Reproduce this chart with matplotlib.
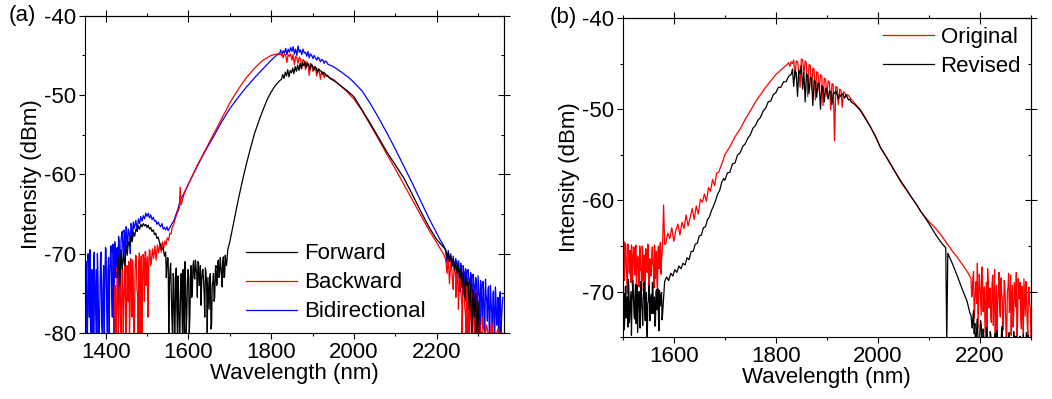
import numpy as np
import matplotlib.pyplot as plt
from matplotlib.ticker import MultipleLocator

plt.rcParams['font.family'] = ['Liberation Sans', 'DejaVu Sans']
plt.rcParams['font.size'] = 16
plt.rcParams['axes.unicode_minus'] = False

# ---------------- panel (a) ----------------
# Forward (black)
fwd_left_y = [-73, -70.5, -74, -69.5, -72, -70, -71.5, -69, -70.2, -68.5,
              -69, -67.8, -68.5, -67.3, -67.8, -66.9, -67.2, -66.5, -66.9, -66.3,
              -66.6, -66.2, -66.5, -66.3, -66.7, -66.4, -66.9, -66.7, -67.2, -67.0,
              -67.6, -67.4, -68.1, -67.9, -68.6, -68.9, -69.5, -69.2, -70.3, -69.8,
              -71.5, -70.6, -74, -71.2, -78, -72.5, -80, -73.5, -77, -72.8,
              -80, -74, -76.5, -72, -80, -73.5, -78, -72, -80, -73,
              -75.5, -71.5, -73, -70.8, -72.5, -71, -74, -71.5, -73.5, -72,
              -75, -71.8, -74, -73, -77, -72.5, -79, -73.5, -76, -72,
              -74, -71, -73, -70.5, -72.5, -71, -73, -70.2, -71.5, -69.5]  # from 1428, step 3
fwd_left2_y = [-73, -70.5, -80, -72, -75, -80, -73, -80, -71.8, -80,
               -76, -80, -72.5, -80, -75.5, -71, -80, -74, -72.8, -78,
               -71.5, -74.5, -70.9, -73.2, -71.8, -75.5, -71.2, -73.8, -76.5, -72.2,
               -73.6, -78, -72.4, -80, -75, -73, -79.5, -74, -72.5, -75.5,
               -71.5, -73.8, -70.8, -72.6, -71.6, -74.2, -70.4, -72.8, -71.2, -70.6]  # from 1546.5, step 3
fwd_mid_x = [1700, 1710, 1720, 1730, 1740, 1750, 1760, 1770, 1780, 1790, 1800, 1810, 1820]
fwd_mid_y = [-68.5, -65.9, -63.3, -60.9, -58.7, -56.7, -54.8, -53.3, -51.9, -50.6, -49.6, -48.8, -48.2]
fwd_top_y = [-48.0, -47.4, -47.9, -47.1, -47.6, -46.8, -47.7, -46.9, -47.2, -46.6,
             -47.3, -46.4, -47.0, -46.2, -46.9, -46.0, -46.7, -45.9, -46.3, -45.8,
             -46.5, -46.0, -46.2, -46.8, -46.1, -46.3, -46.9, -46.4, -46.6, -47.2,
             -46.7, -46.9, -47.0, -47.4, -47.1, -47.3, -47.6, -47.5, -47.7, -47.9]  # from 1825, step 3
fwd_right_x = [1955, 1970, 1985, 2000, 2020, 2040, 2060, 2080, 2100, 2120, 2140, 2160, 2180, 2200, 2215]
fwd_right_y = [-48.3, -48.9, -49.5, -50.2, -51.9, -53.6, -55.4, -57.2, -58.8, -60.4, -62.4, -64.5, -66.5, -68.2, -69.1]
fwd_tail_y = [-69.5, -70.4, -69.9, -71.0, -70.3, -71.6, -70.6, -72.1, -71.0, -72.4,
              -71.5, -73.0, -72.0, -74.2, -72.4, -75.5, -72.9, -74.0, -73.5, -77.0,
              -73.8, -80, -74.5, -78, -75.0, -80, -76, -80, -80, -80]  # from 2222, step 3

# Backward (red)
bwd_left_y = [-80, -74, -80, -72.5, -78, -73, -80, -72, -76, -71.5,
              -80, -73, -71, -77, -72.5, -70.8, -80, -72, -70.5, -75,
              -71, -80, -70.3, -73.5, -70.8, -69.8, -74, -70.4, -72, -69.6,
              -71.2, -69.4, -70.6, -69.0, -70.8, -68.9, -69.9, -68.7, -69.8, -68.5,
              -69.3, -68.4, -68.9, -68.0, -68.3, -67.4, -67.5, -66.6, -66.4, -65.8]  # from 1420, step 3
bwd_left2_y = [-76, -80, -71.8, -80, -74, -80, -71, -80, -73.5, -80,
               -71.5, -76, -80, -70.6, -78, -73, -80, -70.2, -74.5, -80,
               -69.9, -72.8, -80, -70.1, -76, -69.7, -71.8, -78, -69.5, -71.5]  # from 1421.5, step 3
bwd_mid_x = [1570, 1578, 1580, 1582, 1590, 1600, 1620, 1640, 1660, 1680, 1700, 1720, 1740, 1760, 1780, 1800, 1815]
bwd_mid_y = [-65.3, -64.2, -61.6, -63.9, -62.4, -61.2, -59.0, -57.0, -55.0, -53.0, -51.0, -49.3, -47.8, -46.6, -45.6, -45.0, -44.8]
bwd_top_y = [-44.8, -44.9, -44.7, -45.3, -44.8, -45.0, -45.9, -44.9, -45.1, -44.8,
             -45.6, -44.9, -46.2, -45.1, -45.3, -46.0, -45.2, -45.5, -46.6, -45.5,
             -45.7, -46.8, -45.8, -46.1, -47.5, -46.0, -46.3, -47.0, -46.4, -46.6,
             -47.6, -46.7, -46.9, -48.0, -47.0, -47.2, -47.8, -47.3, -47.5, -47.7]  # from 1820, step 3
bwd_right_x = [1950, 1965, 1980, 2000, 2020, 2040, 2060, 2080, 2100, 2120, 2140, 2160, 2180, 2200, 2218]
bwd_right_y = [-48.0, -48.7, -49.4, -50.5, -52.0, -53.8, -55.6, -57.5, -59.3, -61.2, -63.1, -65.0, -66.9, -68.6, -70.2]
bwd_tail_y = [-70.8, -72.5, -70.6, -73.8, -71.0, -72.2, -74.5, -71.5, -73.0, -72.0,
              -75, -72.3, -73.6, -76.5, -72.8, -74.2, -78, -73.5, -80, -74.0,
              -76.5, -80, -75, -80, -74.5, -80, -77, -80, -80, -80,
              -78, -80, -80, -79, -80, -80, -80, -78.5, -80, -80,
              -80, -80, -79.5, -80, -80, -80]  # from 2222, step 3
bwd_tail2_y = [-73.2, -71.4, -75.5, -72.2, -77, -73.0, -74.8, -80, -73.6, -76.4,
               -80, -74.2, -78, -80, -75.5, -80, -77.5, -80, -76, -80,
               -80, -78.5, -80, -80, -79]  # from 2240.5, step 3

# Bidirectional (blue)
bid_left_y = [-80, -71, -80, -73, -69.5, -80, -75, -70.5, -80, -72,
              -70, -80, -76, -69.8, -80, -71.5, -74, -69.5, -80, -70.5,
              -72.5, -69, -78, -70.2, -68.5, -73, -69.2, -67.8, -71.5, -68.4,
              -67.2, -70.6, -67.5, -66.6, -69.2, -66.9, -67.8, -66.2, -68.3, -66.0,
              -66.6, -65.8, -67.1, -65.6, -66.2, -65.3, -65.9, -65.2, -65.6, -64.9,
              -65.3, -64.9, -65.5, -65.1, -65.7, -65.4, -65.9, -65.8, -66.3, -66.0,
              -66.4, -66.6, -66.2, -66.9, -66.7, -67.0, -66.6, -67.1, -66.8, -66.5]  # from 1350, step 3
bid_left2_y = [-74, -80, -70, -78, -80, -72, -80, -69.8, -76, -80,
               -73, -80, -70.5, -79, -74, -80, -69.2, -77, -72, -80,
               -70, -75, -68.8, -80, -71, -69.5, -76, -68.2, -73, -67.6,
               -69.5, -67.0, -71.8, -66.8, -68.6, -67.2, -70.0, -66.4, -67.5, -66.8]  # from 1351.5, step 3
bid_mid_x = [1565, 1575, 1580, 1590, 1600, 1620, 1640, 1660, 1680, 1700, 1720, 1740, 1760, 1780, 1800, 1815]
bid_mid_y = [-65.8, -64.3, -63.3, -62.3, -61.2, -59.1, -57.1, -55.3, -53.4, -51.7, -50.3, -49.0, -47.8, -46.7, -45.6, -44.9]
bid_top_y = [-44.8, -44.3, -45.0, -44.4, -44.7, -44.1, -44.9, -44.2, -44.6, -44.0,
             -44.5, -43.9, -44.8, -44.2, -45.0, -43.8, -44.6, -44.3, -44.9, -44.2,
             -44.7, -44.6, -45.1, -44.5, -45.3, -44.8, -45.0, -45.4, -45.0, -45.3,
             -45.6, -45.2, -45.4, -45.8, -45.5, -45.6, -46.0, -45.7, -45.8, -46.1]  # from 1820, step 3
bid_right_x = [1950, 1970, 1990, 2000, 2020, 2040, 2060, 2080, 2100, 2120, 2140, 2160, 2180, 2200, 2210, 2219]
bid_right_y = [-46.4, -47.1, -47.9, -48.4, -49.5, -51.1, -52.9, -54.8, -56.8, -58.9, -61.0, -63.2, -65.4, -67.4, -68.4, -69.2]
bid_tail_y = [-69.8, -71.2, -69.6, -70.8, -70.0, -71.6, -70.3, -72.0, -70.6, -71.3,
              -70.9, -72.6, -71.2, -73.1, -71.5, -72.4, -71.9, -74.0, -72.0, -73.2,
              -72.4, -75.0, -72.6, -74.2, -73.0, -76.5, -72.8, -75.5, -73.4, -77.0,
              -73.5, -78.5, -73.2, -76.0, -74.5, -80, -74.0, -77.5, -75.0, -80,
              -74.2, -79, -75.5, -80, -74.8, -78, -75.5]  # from 2222, step 3
bid_tail2_y = [-73.5, -71.0, -74.8, -71.6, -75.2, -72.1, -76.0, -72.4, -74.9, -73.0,
               -77.5, -72.7, -76.8, -73.6, -80, -73.3, -78, -74.2, -80, -73.9,
               -79, -74.6, -80, -75.2, -78.5, -74.1, -80, -76, -80, -74.7,
               -80, -75.8, -79, -80, -75, -80, -76.5]  # from 2250.5, step 3

# ---------------- panel (b) ----------------
# Original (red)
org_left_y = [-70, -64.5, -67.5, -65, -68.5, -64.8, -66.2, -65.5, -69, -65.2,
              -66.8, -65.1, -68.2, -64.9, -67.0, -66.3, -69.5, -65.3, -67.4, -65.0,
              -68.8, -66.0, -70.5, -65.4, -67.9, -65.2, -69.2, -66.5, -68.0, -65.1,
              -67.3, -64.9, -68.6, -65.6, -69.8, -65.0, -67.1, -64.6, -66.4, -64.8]  # from 1500, step 2
org_left2_y = [-66.0, -68.8, -64.7, -67.2, -70.2, -65.6, -68.0, -66.9, -64.9, -69.4,
               -65.8, -67.6, -65.2, -70.8, -66.1, -68.4, -65.0, -67.7, -69.9, -65.5,
               -66.7, -69.0, -65.3, -67.8, -64.8, -70.0, -66.4, -68.3, -65.7, -67.0,
               -69.6, -65.1, -66.8, -68.9, -65.4, -67.5, -64.7, -68.1, -65.9]  # from 1501, step 2
org_spike_x = [1580, 1582]
org_spike_y = [-60.5, -64.8]
org_rise_y = [-64.8, -63.6, -64.2, -63.0, -64.5, -63.3, -62.6, -63.8, -62.4, -63.1,
              -61.6, -62.8, -61.9, -60.9, -62.1, -60.6, -61.5, -59.9, -60.2, -59.3,
              -60.1, -58.6, -59.0, -57.7, -58.4, -57.0, -56.9, -56.3, -55.7, -55.0]  # from 1584, step 4
org_mid_x = [1710, 1720, 1730, 1740, 1750, 1760, 1770, 1780, 1790, 1800, 1810, 1820]
org_mid_y = [-54.1, -53.0, -52.2, -51.1, -50.2, -49.2, -48.4, -47.6, -46.9, -46.2, -45.7, -45.2]
org_top_y = [-45.1, -44.9, -45.3, -44.8, -45.0, -44.6, -46.6, -44.7, -44.8, -45.8,
             -47.6, -44.5, -44.6, -46.1, -44.7, -45.0, -48.6, -45.1, -45.2, -47.9,
             -45.5, -45.6, -49.0, -45.9, -46.0, -48.1, -46.2, -46.4, -49.6, -46.6,
             -46.7, -48.6, -46.9, -47.0, -50.1, -47.2, -47.3, -53.5, -47.5, -47.6,
             -49.5, -47.8, -47.9, -49.8, -48.1, -48.2, -48.6, -48.4, -48.5, -48.7]  # from 1822.5, step 2.5
org_right_x = [1955, 1965, 1975, 1985, 1995, 2005, 2015, 2025, 2035, 2045, 2055, 2065,
               2075, 2085, 2095, 2105, 2115, 2125, 2135, 2145, 2155, 2165, 2175, 2180]
org_right_y = [-49.4, -50.0, -50.9, -51.9, -52.9, -54.2, -55.1, -56.1, -57.0, -58.0, -58.8, -59.6,
               -60.4, -61.3, -62.0, -62.6, -63.2, -63.9, -64.7, -65.5, -66.2, -67.0, -67.8, -68.3]
org_tail_y = [-68.5, -70.2, -67.8, -71.5, -68.9, -66.9, -70.8, -69.2, -72.6, -68.3,
              -70.5, -74.5, -69.0, -67.5, -71.8, -69.6, -73.4, -68.2, -70.9, -75,
              -69.3, -71.2, -67.9, -72.8, -70.1, -74.2, -68.8, -71.5, -75, -69.6,
              -72.3, -68.2, -70.6, -73.9, -69.0, -71.7, -75, -68.6, -70.3, -72.9,
              -69.4, -74.6, -70.8, -68.9, -73.2, -70.0, -71.6, -75]  # from 2182.5, step 2.5
org_tail2_y = [-70.6, -68.4, -72.9, -69.7, -71.3, -74.0, -68.1, -70.9, -67.3, -72.2,
               -69.5, -71.6, -75, -68.7, -70.4, -72.8, -69.1, -73.7, -67.6, -71.1,
               -74.4, -69.8, -72.0, -68.5, -70.7, -73.3, -69.2, -75, -70.0, -68.0,
               -71.9, -74.8, -69.3, -72.5, -70.2, -67.9, -73.6, -70.8, -69.0, -74.1,
               -71.4, -68.6, -72.7, -70.3, -75, -69.5, -71.8]  # from 2183.75, step 2.5

# Revised (black)
rev_left_y = [-75, -70.2, -72.8, -69.4, -71.5, -73.9, -69.8, -72.3, -70.0, -71.1,
              -68.8, -72.5, -70.4, -73.5, -69.3, -71.8, -70.0, -74.0, -69.6, -72.2,
              -70.7, -68.9, -73.2, -70.1, -75, -71.0, -69.5, -72.8, -70.3, -69.0,
              -72.4, -70.6, -73.6, -69.8, -71.5, -72.9, -69.9, -71.3, -70.1, -72.5]  # from 1500, step 2
rev_left2_y = [-71.8, -74.2, -69.5, -72.9, -70.6, -68.7, -73.4, -71.2, -74.8, -69.9,
               -70.8, -73.0, -69.2, -71.9, -74.5, -70.3, -72.6, -68.9, -71.4, -73.7,
               -69.6, -72.1, -70.5, -74.0, -71.3, -69.4, -73.2, -70.8, -72.4, -69.1,
               -71.0, -73.8, -70.2, -72.0, -69.7, -74.3, -71.6, -70.4, -73.1]  # from 1501, step 2
rev_rise_y = [-68.9, -68.4, -68.8, -68.0, -68.3, -67.6, -67.9, -67.2, -67.5, -66.9,
              -67.1, -66.3, -66.5, -65.6, -65.6, -64.8, -64.7, -63.9, -63.8, -63.0,
              -62.9, -62.1, -61.8, -61.1, -60.6, -60.0, -59.3, -58.9, -58.0, -57.6]  # from 1582, step 4
rev_mid_y = [-57.8, -57.0, -56.9, -56.0, -55.9, -55.0, -54.8, -54.1, -53.8, -53.2,
             -52.8, -52.1, -51.8, -51.2, -50.9, -50.2, -49.9, -49.2, -49.1, -48.4,
             -48.2, -47.6, -47.6, -47.0, -47.0, -46.4]  # from 1700, step 5
rev_top_y = [-46.2, -45.6, -47.5, -45.8, -46.0, -48.6, -45.7, -46.1, -45.2, -47.8,
             -46.0, -49.2, -46.1, -46.4, -48.3, -46.5, -46.7, -49.6, -46.8, -47.0,
             -48.7, -47.1, -47.3, -50.0, -47.4, -47.6, -49.2, -47.7, -47.9, -48.9,
             -48.0, -48.1, -49.5, -48.2, -48.3, -48.0, -48.4, -48.9, -48.4, -48.6,
             -48.3, -48.5, -48.8, -48.4, -48.7, -49.0, -48.9, -49.2]  # from 1830, step 2.5
rev_right_x = [1955, 1965, 1975, 1985, 1995, 2005, 2015, 2025, 2035, 2045, 2055, 2065, 2075,
               2085, 2095, 2105, 2115, 2125, 2133, 2135, 2137, 2145, 2155, 2165, 2175, 2180]
rev_right_y = [-49.5, -50.1, -51.0, -51.9, -53.0, -54.2, -55.1, -56.0, -57.0, -57.9, -58.7, -59.6, -60.4,
               -61.3, -62.1, -63.0, -63.9, -64.7, -65.2, -75.5, -65.8, -66.8, -68.2, -69.7, -71.1, -72.3]
rev_tail_y = [-72.6, -74.0, -72.1, -73.5, -75.5, -73.0, -76, -74.2, -73.6, -77,
              -74.8, -76.5, -73.9, -78, -75.2, -74.4, -77, -75.8, -78, -74.6,
              -76.5, -79, -75.3, -77.5, -74.2, -78, -76, -75.1, -79, -76.8,
              -74.5, -77.8, -75.6, -79, -76.2, -74.9, -78, -76.5, -75.3, -79,
              -76.8, -74.7, -78, -75.9, -77, -74.8, -79, -76]  # from 2182.5, step 2.5
rev_tail2_y = [-73.4, -72.8, -74.6, -76, -73.9, -75.4, -77, -73.2, -75.8, -74.1,
               -78, -75.5, -74.0, -76.8, -79, -74.7, -76.2, -78, -75.0, -77.3,
               -74.3, -76.9, -79, -75.7, -73.8, -77.6, -75.2, -79, -76.4, -74.6,
               -78, -75.9, -77.1, -74.4, -79, -76.3, -75.1, -78, -74.9, -77.4,
               -79, -75.6, -76.7, -74.5, -78, -76.1, -75.4]  # from 2183.75, step 2.5


def run(start, step, vals):
    return start + step * np.arange(len(vals))


def join(*parts):
    xs = np.concatenate([np.asarray(p[0], float) for p in parts])
    ys = np.concatenate([np.asarray(p[1], float) for p in parts])
    order = np.argsort(xs, kind='stable')
    return xs[order], ys[order]


fwd = join((run(1428, 3, fwd_left_y), fwd_left_y), (run(1546.5, 3, fwd_left2_y), fwd_left2_y),
           (fwd_mid_x, fwd_mid_y), (run(1825, 3, fwd_top_y), fwd_top_y),
           (fwd_right_x, fwd_right_y), (run(2222, 3, fwd_tail_y), fwd_tail_y))
bwd = join((run(1420, 3, bwd_left_y), bwd_left_y), (run(1421.5, 3, bwd_left2_y), bwd_left2_y),
           (bwd_mid_x, bwd_mid_y), (run(1820, 3, bwd_top_y), bwd_top_y),
           (bwd_right_x, bwd_right_y), (run(2222, 3, bwd_tail_y), bwd_tail_y),
           (run(2240.5, 3, bwd_tail2_y), bwd_tail2_y))
bid = join((run(1350, 3, bid_left_y), bid_left_y), (run(1351.5, 3, bid_left2_y), bid_left2_y),
           (bid_mid_x, bid_mid_y), (run(1820, 3, bid_top_y), bid_top_y),
           (bid_right_x, bid_right_y), (run(2222, 3, bid_tail_y), bid_tail_y),
           (run(2250.5, 3, bid_tail2_y), bid_tail2_y))
org = join((run(1500, 2, org_left_y), org_left_y), (run(1501, 2, org_left2_y), org_left2_y),
           (org_spike_x, org_spike_y), (run(1584, 4, org_rise_y), org_rise_y),
           (org_mid_x, org_mid_y), (run(1822.5, 2.5, org_top_y), org_top_y),
           (org_right_x, org_right_y), (run(2182.5, 2.5, org_tail_y), org_tail_y),
           (run(2183.75, 2.5, org_tail2_y), org_tail2_y))
rev = join((run(1500, 2, rev_left_y), rev_left_y), (run(1501, 2, rev_left2_y), rev_left2_y),
           (run(1582, 4, rev_rise_y), rev_rise_y), (run(1700, 5, rev_mid_y), rev_mid_y),
           (run(1830, 2.5, rev_top_y), rev_top_y), (rev_right_x, rev_right_y),
           (run(2182.5, 2.5, rev_tail_y), rev_tail_y), (run(2183.75, 2.5, rev_tail2_y), rev_tail2_y))

fig = plt.figure(figsize=(10.52, 3.99), dpi=100)
ax1 = fig.add_axes([0.0808, 0.1654, 0.398, 0.795])
ax2 = fig.add_axes([0.592, 0.155, 0.388, 0.80])

lw = 0.9
l_bid, = ax1.plot(*bid, color='#0000ff', lw=lw)
l_bwd, = ax1.plot(*bwd, color='#ff0000', lw=lw)
l_fwd, = ax1.plot(*fwd, color='black', lw=lw)
ax1.legend([l_fwd, l_bwd, l_bid], ['Forward', 'Backward', 'Bidirectional'],
           loc='center left', bbox_to_anchor=(0.385, 0.158), frameon=False,
           borderpad=0, borderaxespad=0, handlelength=2.3, handletextpad=0.3,
           labelspacing=0.36)
ax1.set_xlim(1350, 2362)
ax1.set_ylim(-80, -40)
ax1.xaxis.set_major_locator(MultipleLocator(200))
ax1.xaxis.set_minor_locator(MultipleLocator(100))

l_org, = ax2.plot(*org, color='#ff0000', lw=lw)
l_rev, = ax2.plot(*rev, color='black', lw=lw)
ax2.legend([l_org, l_rev], ['Original', 'Revised'],
           loc='center left', bbox_to_anchor=(0.637, 0.893), frameon=False,
           borderpad=0, borderaxespad=0, handlelength=2.3, handletextpad=0.3,
           labelspacing=0.36)
ax2.set_xlim(1500, 2300)
ax2.set_ylim(-75, -40)
ax2.xaxis.set_major_locator(MultipleLocator(200))
ax2.xaxis.set_minor_locator(MultipleLocator(100))

for ax in (ax1, ax2):
    ax.yaxis.set_major_locator(MultipleLocator(10))
    ax.yaxis.set_minor_locator(MultipleLocator(5))
    ax.set_xlabel('Wavelength (nm)', labelpad=0)
    ax.set_ylabel('Intensity (dBm)', labelpad=1)
    ax.tick_params(which='major', direction='out', length=4.5, width=0.8, pad=2)
    ax.tick_params(which='minor', direction='out', length=2.5, width=0.8)
    for s in ax.spines.values():
        s.set_linewidth(0.8)
    top = ax.secondary_xaxis('top')
    top.xaxis.set_major_locator(MultipleLocator(200))
    top.xaxis.set_minor_locator(MultipleLocator(100))
    top.tick_params(which='major', direction='inout', length=8, width=0.8, labeltop=False)
    top.tick_params(which='minor', direction='out', length=2.5, width=0.8)
    right = ax.secondary_yaxis('right')
    right.yaxis.set_major_locator(MultipleLocator(10))
    right.yaxis.set_minor_locator(MultipleLocator(5))
    right.tick_params(which='major', direction='inout', length=8, width=0.8, labelright=False)
    right.tick_params(which='minor', direction='in', length=2.5, width=0.8)

fig.text(0.008, 0.96, '(a)', ha='left', va='center')
fig.text(0.522, 0.955, '(b)', ha='left', va='center')

fig.savefig('out.png', dpi=100)
